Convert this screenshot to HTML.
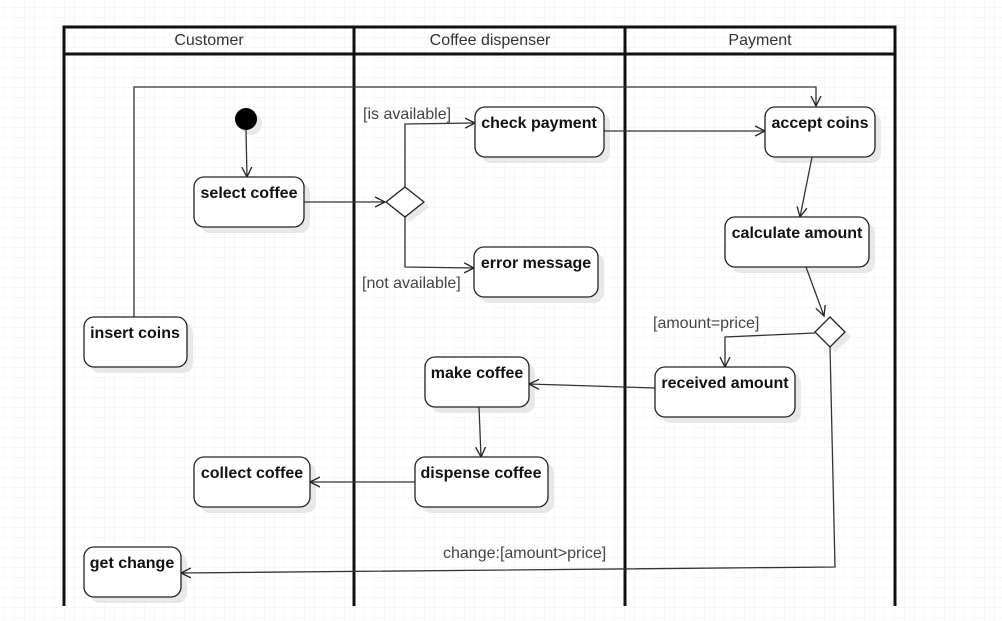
<!DOCTYPE html>
<html><head><style>
html,body{margin:0;padding:0;background:#fff;}
svg{display:block;}
text{font-family:"Liberation Sans",Arial,sans-serif;}
</style></head><body>
<svg width="1002" height="621" viewBox="0 0 1002 621" xmlns="http://www.w3.org/2000/svg">
<defs>
<pattern id="g" width="10" height="10" patternUnits="userSpaceOnUse" x="4" y="7">
<path d="M10 0H0V10" fill="none" stroke="#efefef" stroke-width="1"/>
</pattern>
<marker id="a" markerWidth="12" markerHeight="12" refX="10" refY="6" orient="auto" markerUnits="userSpaceOnUse">
<path d="M0 1L10 6L0 11" fill="none" stroke="#222" stroke-width="1.3"/>
</marker>
</defs>
<rect width="1002" height="621" fill="url(#g)"/>
<g stroke="#111" stroke-width="3" fill="none">
<path d="M64 606V27H895V606"/>
<path d="M64 54H895"/>
<path d="M354 27V606M625 27V606"/>
</g>
<g font-size="16" fill="#333" text-anchor="middle">
<text x="209" y="45">Customer</text>
<text x="490" y="45">Coffee dispenser</text>
<text x="760" y="45">Payment</text>
</g>
<g fill="#e8e8e8">
<rect x="200" y="183" width="110" height="50" rx="10"/>
<rect x="481" y="113" width="129" height="50" rx="10"/>
<rect x="480" y="253" width="124" height="50" rx="10"/>
<rect x="771" y="113" width="110" height="50" rx="10"/>
<rect x="731" y="223" width="144" height="50" rx="10"/>
<rect x="90" y="323" width="103" height="50" rx="10"/>
<rect x="661" y="373" width="140" height="50" rx="10"/>
<rect x="431" y="363" width="104" height="50" rx="10"/>
<rect x="421" y="463" width="133" height="50" rx="10"/>
<rect x="200" y="463" width="116" height="50" rx="10"/>
<rect x="90" y="553" width="97" height="50" rx="10"/>
<circle cx="251" cy="124" r="11"/>
<path d="M410 192L429 207L410 222L391 207Z"/>
<path d="M835 322L851 337L835 352L819 337Z"/>
</g>
<g stroke="#333" stroke-width="1.3" fill="none">
<path d="M246 130L247 177" marker-end="url(#a)"/>
<path d="M304 202H385" marker-end="url(#a)"/>
<path d="M405 187V124L475 123" marker-end="url(#a)"/>
<path d="M405 217V267L474 268" marker-end="url(#a)"/>
<path d="M604 131H765" marker-end="url(#a)"/>
<path d="M134 317V87H816V106" marker-end="url(#a)"/>
<path d="M812 157L800 217" marker-end="url(#a)"/>
<path d="M806 267L824 316" marker-end="url(#a)"/>
<path d="M815 333L725 337V367" marker-end="url(#a)"/>
<path d="M655 388L529 384" marker-end="url(#a)"/>
<path d="M479 407L481 457" marker-end="url(#a)"/>
<path d="M415 482H310" marker-end="url(#a)"/>
<path d="M830 347L835 567L181 573" marker-end="url(#a)"/>
</g>
<g fill="#fff" stroke="#222" stroke-width="1.3">
<rect x="194" y="177" width="110" height="50" rx="10"/>
<rect x="475" y="107" width="129" height="50" rx="10"/>
<rect x="474" y="247" width="124" height="50" rx="10"/>
<rect x="765" y="107" width="110" height="50" rx="10"/>
<rect x="725" y="217" width="144" height="50" rx="10"/>
<rect x="84" y="317" width="103" height="50" rx="10"/>
<rect x="655" y="367" width="140" height="50" rx="10"/>
<rect x="425" y="357" width="104" height="50" rx="10"/>
<rect x="415" y="457" width="133" height="50" rx="10"/>
<rect x="194" y="457" width="116" height="50" rx="10"/>
<rect x="84" y="547" width="97" height="50" rx="10"/>
<path d="M405 187L424 202L405 217L386 202Z"/>
<path d="M830 317L845 332L830 347L815 332Z"/>
</g>
<circle cx="246" cy="119" r="11" fill="#000"/>
<g font-size="16" font-weight="bold" fill="#111" text-anchor="middle">
<text x="249" y="198">select coffee</text>
<text x="539" y="128">check payment</text>
<text x="536" y="268">error message</text>
<text x="820" y="128">accept coins</text>
<text x="797" y="238">calculate amount</text>
<text x="135" y="338">insert coins</text>
<text x="725" y="388">received amount</text>
<text x="477" y="378">make coffee</text>
<text x="481" y="478">dispense coffee</text>
<text x="252" y="478">collect coffee</text>
<text x="132" y="568">get change</text>
</g>
<g font-size="16" fill="#444">
<text x="363" y="119">[is available]</text>
<text x="362" y="288">[not available]</text>
<text x="653" y="328">[amount=price]</text>
<text x="443" y="558">change:[amount&gt;price]</text>
</g>
</svg>
</body></html>
